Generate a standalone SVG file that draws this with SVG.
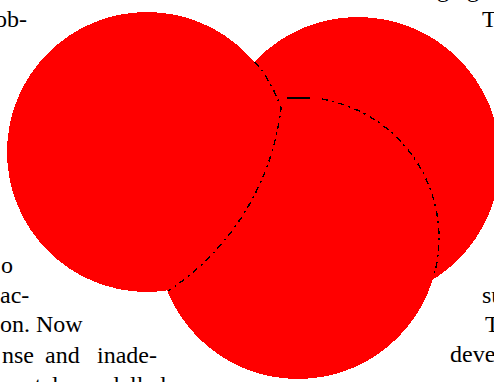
<svg xmlns="http://www.w3.org/2000/svg" width="494" height="382" viewBox="0 0 494 382">
<style>
.t{font-family:"Liberation Serif","Times New Roman",serif;font-size:24px;fill:#000}
.c{fill:#FF0000;stroke:none;shape-rendering:crispEdges}
.d{fill:none;stroke:#000;stroke-width:1.4;stroke-dasharray:6 4 2 5;shape-rendering:crispEdges}
.s{fill:none;stroke:#000;stroke-width:1.4;shape-rendering:crispEdges}
</style>
<rect width="494" height="382" fill="#fff"/>
<g id="text">
<text class="t" x="-5" y="27">ob-</text>
<text class="t" x="437" y="-3">g</text>
<text class="t" x="467" y="-3">g</text>
<text class="t" x="482" y="27">T</text>
<text class="t" x="1" y="273">o</text>
<text class="t" x="0" y="303">ac-</text>
<text class="t" x="0" y="332">on. Now</text>
<text class="t" x="2" y="363">nse</text>
<text class="t" x="45" y="363">and</text>
<text class="t" x="97" y="363">inade-</text>
<text class="t" x="0" y="393">quately modelled</text>
<text class="t" x="482" y="303">su</text>
<text class="t" x="485" y="332">T</text>
<text class="t" x="450" y="362">deve</text>
</g>
<g id="circleB"><circle class="c" cx="358" cy="159" r="142"/></g>
<g id="circleA"><circle class="c" cx="147" cy="152" r="140"/></g>
<g id="circleC"><circle class="c" cx="298" cy="238" r="141"/></g>
<g id="connectors">
<path class="d" d="M255,62 A140,140 0 0 1 281,108 A254,254 0 0 1 168,291"/>
<path class="s" d="M287,98 H310"/>
<path class="d" d="M322,99.1 A141,141 0 0 1 434.6,273"/>
</g>
</svg>
